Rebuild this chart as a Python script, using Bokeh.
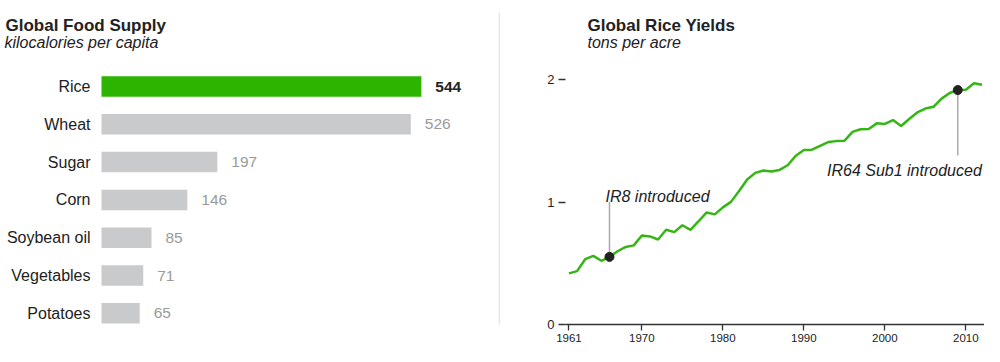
from bokeh.plotting import figure
from bokeh.models import ColumnDataSource, Range1d, FixedTicker
from bokeh.layouts import row
from bokeh.core.properties import value
from bokeh.embed import file_html
from bokeh.resources import INLINE

# ---------------- data ----------------
categories = ["Rice", "Wheat", "Sugar", "Corn", "Soybean oil", "Vegetables", "Potatoes"]
kcal = [544, 526, 197, 146, 85, 71, 65]
highlight = "Rice"

years = list(range(1961, 2013))
yields = [0.417, 0.436, 0.533, 0.560, 0.520, 0.552, 0.598, 0.633, 0.646, 0.727,
          0.719, 0.694, 0.773, 0.754, 0.810, 0.773, 0.843, 0.915, 0.899, 0.956,
          1.001, 1.090, 1.184, 1.238, 1.257, 1.249, 1.262, 1.300, 1.378, 1.424,
          1.427, 1.459, 1.489, 1.497, 1.499, 1.572, 1.594, 1.596, 1.642, 1.637,
          1.669, 1.620, 1.677, 1.731, 1.763, 1.777, 1.844, 1.890, 1.914, 1.917,
          1.970, 1.957]
x_ticks = [1961, 1970, 1980, 1990, 2000, 2010]
y_ticks = [0, 1, 2]
event_labels = ["IR8 introduced", "IR64 Sub1 introduced"]
event_years = [1966, 2009]

FONT = value("Liberation Sans")
DARK = "#222222"
GREEN = "#2db400"
GRAY_BAR = "#c9cacc"
GRAY_TXT = "#9a9a9a"

H = 346
BOTTOM = 22          # shared bottom border (x-axis room)
FRAME_H = H - BOTTOM

# ---------------- left: bar chart ----------------
LW = 500
BAR0 = 101           # px of zero
SCALE = 0.588        # px per kcal
ROW0 = 86            # px of first row centre from top
ROWSTEP = 37.8

def lx(px):
    return (px - BAR0) / SCALE

def ly(px):
    return (px - ROW0) / ROWSTEP

left = figure(width=LW, height=H,
              x_range=Range1d(lx(0), lx(LW)), y_range=Range1d(ly(FRAME_H), ly(0)),
              x_axis_location=None, y_axis_location=None,
              min_border_left=0, min_border_right=0, min_border_top=0,
              min_border_bottom=BOTTOM,
              output_backend="svg", toolbar_location=None, outline_line_color=None)
left.grid.grid_line_color = None
left.background_fill_color = "white"
left.border_fill_color = "white"

idx = list(range(len(categories)))
bar_src = ColumnDataSource(dict(
    y=idx, right=kcal, cat=categories,
    color=[GREEN if c == highlight else GRAY_BAR for c in categories],
))
left.hbar(y="y", left=0, right="right", height=20.5 / ROWSTEP, fill_color="color",
          line_color=None, source=bar_src)

left.text(x=0, y="y", text="cat", source=bar_src, x_offset=-11,
          text_align="right", text_baseline="middle", text_font=FONT,
          text_font_size="16px", text_color=DARK)

hi = [i for i, c in enumerate(categories) if c == highlight]
lo = [i for i, c in enumerate(categories) if c != highlight]
left.text(x=[kcal[i] for i in hi], y=hi, text=[str(kcal[i]) for i in hi],
          x_offset=14, text_align="left", text_baseline="middle", text_font=FONT,
          text_font_size="15.5px", text_font_style="bold", text_color=DARK)
left.text(x=[kcal[i] for i in lo], y=lo, text=[str(kcal[i]) for i in lo],
          x_offset=14, text_align="left", text_baseline="middle", text_font=FONT,
          text_font_size="15.5px", text_color=GRAY_TXT)

left.text(x=[lx(5)], y=[ly(25)], text=["Global Food Supply"], text_align="left",
          text_baseline="alphabetic", text_font=FONT, text_font_size="17px",
          text_font_style="bold", text_color=DARK)
left.text(x=[lx(4)], y=[ly(42)], text=["kilocalories per capita"], text_align="left",
          text_baseline="alphabetic", text_font=FONT, text_font_size="16px",
          text_font_style="italic", text_color=DARK)

# panel separator
left.segment(x0=[lx(LW - 1)], y0=[ly(12)], x1=[lx(LW - 1)], y1=[ly(H)],
             line_color="#e8e8e8", line_width=2)

# ---------------- right: line chart ----------------
RX0 = LW             # page x of right figure
RW = 984 - LW
FL = 565 - RX0       # frame left within figure
PXY = 8.1            # px per year
X0 = 1960.57
PPU = (FRAME_H - 79) / 2.0
Y1 = FRAME_H / PPU

def rx(px):          # page px -> year
    return X0 + (px - RX0 - FL) / PXY

def ry(px):          # page px from top -> value
    return (FRAME_H - px) / PPU

right = figure(width=RW, height=H,
               x_range=Range1d(X0, X0 + (RW - FL) / PXY), y_range=Range1d(0, Y1),
               min_border_left=FL, min_border_right=0, min_border_top=0,
               min_border_bottom=BOTTOM,
               output_backend="svg", toolbar_location=None, outline_line_color=None)
right.grid.grid_line_color = None
right.background_fill_color = "white"
right.border_fill_color = "white"

xa = right.xaxis[0]
xa.ticker = FixedTicker(ticks=x_ticks)
xa.axis_line_color = "#333333"
xa.axis_line_width = 1.5
xa.major_tick_line_color = "#333333"
xa.major_tick_line_width = 1.3
xa.major_tick_out = 6
xa.major_tick_in = 0
xa.minor_tick_line_color = None
xa.major_label_standoff = 3
xa.major_label_text_font = "Liberation Sans"
xa.major_label_text_font_size = "11.5px"
xa.major_label_text_color = DARK

ya = right.yaxis[0]
ya.ticker = FixedTicker(ticks=y_ticks)
ya.axis_line_color = None
ya.major_tick_line_color = "#333333"
ya.major_tick_line_width = 1.3
ya.major_tick_out = 7
ya.major_tick_in = 0
ya.minor_tick_line_color = None
ya.major_label_standoff = 4
ya.major_label_text_font = "Liberation Sans"
ya.major_label_text_font_size = "13px"
ya.major_label_text_color = DARK

right.line(years, yields, line_color="#34b714", line_width=2.5)

ev_vals = [yields[years.index(y)] for y in event_years]
leader_end = [1.0, 1.38]
right.segment(x0=event_years, y0=ev_vals, x1=event_years, y1=leader_end,
              line_color="#aaaaaa", line_width=1.5)
right.scatter(event_years, ev_vals, size=9, fill_color=DARK, line_color=DARK)

right.text(x=[event_years[0]], y=[leader_end[0]], text=[event_labels[0]],
           x_offset=-4, y_offset=-6, text_align="left", text_baseline="alphabetic",
           text_font=FONT, text_font_size="16px", text_font_style="italic", text_color=DARK)
right.text(x=[event_years[1]], y=[leader_end[1]], text=[event_labels[1]],
           x_offset=24, y_offset=15, text_align="right", text_baseline="alphabetic",
           text_font=FONT, text_font_size="16px", text_font_style="italic", text_color=DARK)

right.text(x=[rx(587)], y=[ry(25)], text=["Global Rice Yields"], text_align="left",
           text_baseline="alphabetic", text_font=FONT, text_font_size="17px",
           text_font_style="bold", text_color=DARK)
right.text(x=[rx(587)], y=[ry(42)], text=["tons per acre"], text_align="left",
           text_baseline="alphabetic", text_font=FONT, text_font_size="16px",
           text_font_style="italic", text_color=DARK)

layout = row(left, right, spacing=0)
open("out.html", "w").write(file_html(layout, INLINE))
